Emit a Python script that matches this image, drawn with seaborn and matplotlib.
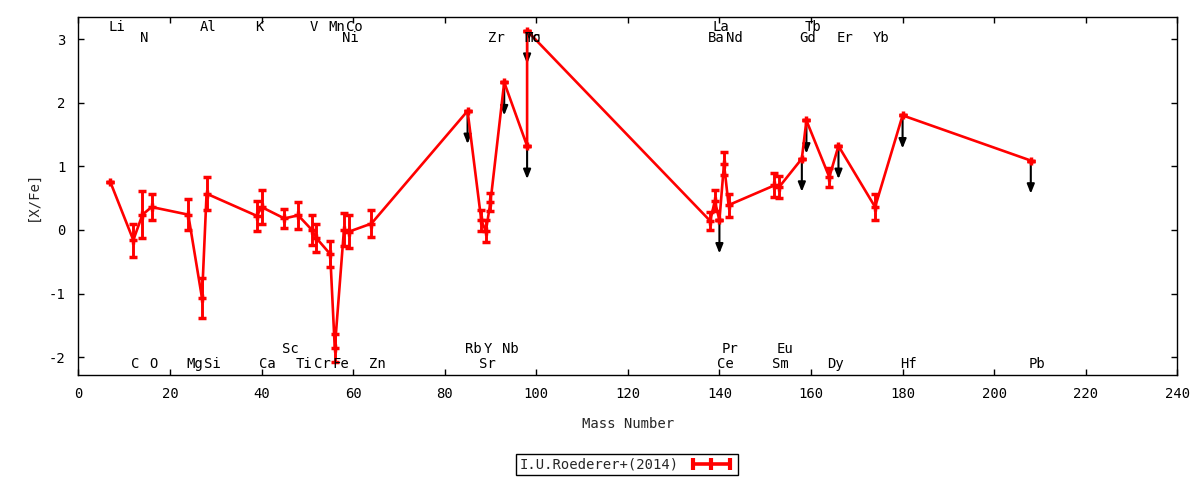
import numpy as np
import pandas as pd
import matplotlib
matplotlib.use("Agg")
import matplotlib.pyplot as plt
import seaborn as sns
from matplotlib.lines import Line2D

# ---------------- data ----------------
elements = ["Li", "C", "N", "O", "Mg", "Al", "Si", "K", "Ca", "Sc",
            "Ti", "V", "Cr", "Mn", "Fe", "Ni", "Co", "Zn",
            "Rb", "Sr", "Y", "Zr", "Nb", "Mo", "Tc",
            "Ba", "La", "Ce", "Pr", "Nd",
            "Sm", "Eu", "Gd", "Tb", "Dy", "Er", "Yb", "Hf", "Pb"]
mass = [7, 12, 14, 16, 24, 27, 28, 39, 40, 45,
        48, 51, 52, 55, 56, 58, 59, 64,
        85, 88, 89, 90, 93, 98, 98,
        138, 139, 140, 141, 142,
        152, 153, 158, 159, 164, 166, 174, 180, 208]
x_fe = [0.75, -0.16, 0.24, 0.36, 0.24, -1.07, 0.57, 0.22, 0.36, 0.18,
        0.23, 0.00, -0.13, -0.38, -1.86, 0.00, -0.03, 0.10,
        1.87, 0.15, -0.02, 0.44, 2.32, 1.32, 3.13,
        0.14, 0.46, 0.15, 1.04, 0.39,
        0.70, 0.67, 1.12, 1.72, 0.83, 1.32, 0.36, 1.80, 1.09]
x_fe_err = [0.0, 0.26, 0.37, 0.21, 0.24, 0.32, 0.26, 0.23, 0.26, 0.15,
            0.21, 0.23, 0.22, 0.21, 0.22, 0.26, 0.26, 0.21,
            0.0, 0.17, 0.17, 0.14, 0.0, 0.0, 0.0,
            0.14, 0.17, 0.0, 0.18, 0.18,
            0.19, 0.17, 0.0, 0.0, 0.15, 0.0, 0.20, 0.0, 0.0]
upper_limits = ["Rb", "Nb", "Mo", "Tc", "Ce", "Gd", "Tb", "Er", "Hf", "Pb"]

# label rows (top row 1 / top row 2 / bottom row 1 / bottom row 2)
top_row1 = ["Li", "Al", "K", "V", "Mn", "Co", "La", "Tb"]
top_row2 = ["N", "Ni", "Zr", "Mo", "Tc", "Ba", "Nd", "Gd", "Er", "Yb"]
bottom_row1 = ["Sc", "Rb", "Y", "Nb", "Pr", "Eu"]
bottom_row2 = ["C", "O", "Mg", "Si", "Ca", "Ti", "Cr", "Fe", "Zn", "Sr",
               "Ce", "Sm", "Dy", "Hf", "Pb"]

legend_label = "I.U.Roederer+(2014)"
x_ticks = list(range(0, 241, 20))
y_ticks = [-2, -1, 0, 1, 2, 3]

df = pd.DataFrame({"element": elements, "mass": mass,
                   "xfe": x_fe, "err": x_fe_err})

# ---------------- style ----------------
sns.set_style("ticks")
plt.rcParams["font.family"] = ["DejaVu Sans Mono", "DejaVu Sans"]
plt.rcParams["font.size"] = 10
plt.rcParams["axes.unicode_minus"] = False

fig = plt.figure(figsize=(12, 4.8), dpi=100)
ax = fig.add_axes([0.0653, 0.21875, 0.9158, 0.7458])

RED = "#ff0000"

# upper-limit arrows (drawn beneath the red line)
ul = df[df["element"].isin(upper_limits)]
for _, r in ul.iterrows():
    ax.annotate("", xy=(r["mass"], r["xfe"] - 0.52), xytext=(r["mass"], r["xfe"]),
                arrowprops=dict(arrowstyle="-|>,head_length=0.55,head_width=0.22",
                                color="black", lw=1.5, shrinkA=0, shrinkB=0,
                                mutation_scale=10),
                zorder=1.5)

# error bars
ax.errorbar(df["mass"], df["xfe"], yerr=df["err"], fmt="none",
            ecolor=RED, elinewidth=2.1, capsize=2.6, capthick=2.5, zorder=3)

# connecting line with markers
sns.lineplot(data=df, x="mass", y="xfe", sort=False, estimator=None,
             color=RED, lw=1.9, marker="+", markersize=5.5,
             markeredgewidth=2.5, markeredgecolor=RED, ax=ax,
             legend=False, zorder=4)

# element labels
row_y = {}
for e in top_row1:
    row_y[e] = 3.19
for e in top_row2:
    row_y[e] = 3.02
for e in bottom_row1:
    row_y[e] = -1.87
for e in bottom_row2:
    row_y[e] = -2.11
for e, m in zip(elements, mass):
    ax.text(m - 0.5, row_y[e], e, ha="left", va="center", fontsize=10,
            color="black", zorder=5)

# axes
ax.set_xlim(0, 240)
ax.set_ylim(-2.28, 3.346)
ax.set_xticks(x_ticks)
ax.set_yticks(y_ticks)
ax.set_xlabel("Mass Number", fontsize=10, labelpad=11)
ax.set_ylabel("[X/Fe]", fontsize=10, labelpad=7)
ax.tick_params(direction="in", length=4, width=1, top=True, right=True,
               labelsize=10, colors="black")
ax.tick_params(axis="x", pad=9)
ax.tick_params(axis="y", pad=9)
for s in ax.spines.values():
    s.set_color("black")
    s.set_linewidth(1)
ax.grid(False)

# legend
handle = Line2D([], [], color=RED, lw=2.6, marker="|", markersize=8,
                markeredgewidth=3, markeredgecolor=RED)
leg = fig.legend([handle], [legend_label], loc="center",
                 bbox_to_anchor=(0.5225, 0.032), markerfirst=False,
                 numpoints=3, handlelength=3.3, frameon=True, fancybox=False,
                 edgecolor="black", framealpha=1, borderpad=0.25,
                 handletextpad=0.7, borderaxespad=0, fontsize=10)
leg.get_frame().set_linewidth(1)

fig.savefig("out.png", dpi=100)
